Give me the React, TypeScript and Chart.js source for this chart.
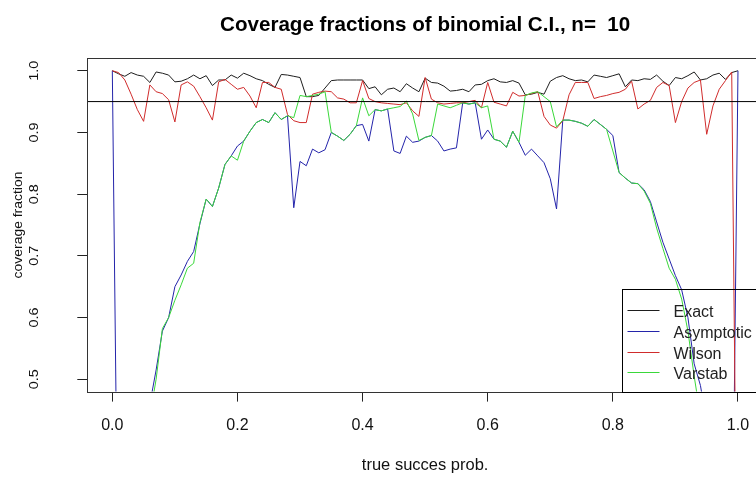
import React, { useEffect, useRef } from "react";
import { Chart, registerables } from "chart.js";

Chart.register(...registerables);

// ---------------- data ----------------
const P = [
  0.00, 0.01, 0.02, 0.03, 0.04, 0.05, 0.06, 0.07, 0.08, 0.09,
  0.10, 0.11, 0.12, 0.13, 0.14, 0.15, 0.16, 0.17, 0.18, 0.19,
  0.20, 0.21, 0.22, 0.23, 0.24, 0.25, 0.26, 0.27, 0.28, 0.29,
  0.30, 0.31, 0.32, 0.33, 0.34, 0.35, 0.36, 0.37, 0.38, 0.39,
  0.40, 0.41, 0.42, 0.43, 0.44, 0.45, 0.46, 0.47, 0.48, 0.49,
  0.50, 0.51, 0.52, 0.53, 0.54, 0.55, 0.56, 0.57, 0.58, 0.59,
  0.60, 0.61, 0.62, 0.63, 0.64, 0.65, 0.66, 0.67, 0.68, 0.69,
  0.70, 0.71, 0.72, 0.73, 0.74, 0.75, 0.76, 0.77, 0.78, 0.79,
  0.80, 0.81, 0.82, 0.83, 0.84, 0.85, 0.86, 0.87, 0.88, 0.89,
  0.90, 0.91, 0.92, 0.93, 0.94, 0.95, 0.96, 0.97, 0.98, 0.99,
  1.00,
];

const EXACT = [
  1.000, 0.995, 0.991, 0.997, 0.993, 0.991, 0.981, 0.998, 0.996, 0.993,
  0.982, 0.983, 0.987, 0.993, 0.987, 0.992, 0.976, 0.985, 0.985, 0.993,
  0.988, 0.996, 0.992, 0.987, 0.984, 0.978, 0.973, 0.994, 0.993, 0.991,
  0.989, 0.958, 0.958, 0.960, 0.972, 0.984, 0.985, 0.985, 0.985, 0.985,
  0.985, 0.971, 0.974, 0.961, 0.970, 0.972, 0.966, 0.979, 0.972, 0.966,
  0.988, 0.981, 0.980, 0.975, 0.967, 0.968, 0.970, 0.966, 0.977, 0.978,
  0.984, 0.987, 0.982, 0.981, 0.984, 0.980, 0.961, 0.962, 0.965, 0.962,
  0.983, 0.989, 0.992, 0.987, 0.984, 0.985, 0.982, 0.993, 0.991, 0.989,
  0.992, 0.995, 0.974, 0.985, 0.984, 0.987, 0.986, 0.993, 0.983, 0.976,
  0.989, 0.987, 0.992, 0.998, 0.985, 0.987, 0.993, 0.996, 0.986, 0.997,
  1.000,
];

const ASYMPTOTIC = [
  1.000, 0.096, 0.183, 0.263, 0.335, 0.400, 0.460, 0.515, 0.578, 0.600,
  0.650, 0.669, 0.691, 0.707, 0.752, 0.792, 0.780, 0.810, 0.848, 0.862,
  0.878, 0.886, 0.902, 0.916, 0.921, 0.916, 0.932, 0.921, 0.927, 0.778,
  0.853, 0.846, 0.873, 0.867, 0.872, 0.900, 0.894, 0.887, 0.897, 0.911,
  0.913, 0.886, 0.937, 0.935, 0.938, 0.870, 0.866, 0.894, 0.884, 0.886,
  0.892, 0.895, 0.886, 0.870, 0.873, 0.875, 0.948, 0.946, 0.948, 0.889,
  0.904, 0.889, 0.886, 0.876, 0.902, 0.884, 0.863, 0.873, 0.862, 0.851,
  0.825, 0.776, 0.920, 0.920, 0.918, 0.915, 0.910, 0.921, 0.913, 0.905,
  0.895, 0.835, 0.826, 0.818, 0.817, 0.807, 0.788, 0.755, 0.722, 0.695,
  0.668, 0.645, 0.600, 0.525, 0.490, 0.430, 0.335, 0.263, 0.183, 0.096,
  1.000,
];

const WILSON = [
  1.000, 0.997, 0.985, 0.962, 0.937, 0.918, 0.977, 0.966, 0.963, 0.953,
  0.917, 0.977, 0.982, 0.975, 0.958, 0.940, 0.920, 0.982, 0.986, 0.978,
  0.970, 0.973, 0.959, 0.940, 0.981, 0.981, 0.973, 0.970, 0.929, 0.919,
  0.916, 0.916, 0.962, 0.965, 0.967, 0.966, 0.956, 0.954, 0.948, 0.948,
  0.984, 0.955, 0.950, 0.948, 0.947, 0.946, 0.945, 0.948, 0.935, 0.926,
  0.989, 0.954, 0.948, 0.946, 0.947, 0.948, 0.948, 0.950, 0.952, 0.940,
  0.981, 0.949, 0.946, 0.943, 0.965, 0.959, 0.960, 0.963, 0.966, 0.926,
  0.912, 0.907, 0.919, 0.961, 0.981, 0.981, 0.981, 0.955, 0.958, 0.960,
  0.963, 0.965, 0.970, 0.983, 0.938, 0.946, 0.952, 0.973, 0.981, 0.976,
  0.916, 0.950, 0.972, 0.981, 0.985, 0.897, 0.943, 0.970, 0.984, 0.998,
  0.000,
];

const VARSTAB = [
  0.000, 0.096, 0.180, 0.260, 0.330, 0.400, 0.440, 0.500, 0.582, 0.600,
  0.628, 0.653, 0.680, 0.688, 0.754, 0.792, 0.780, 0.810, 0.848, 0.862,
  0.855, 0.886, 0.902, 0.916, 0.921, 0.916, 0.932, 0.921, 0.927, 0.924,
  0.960, 0.958, 0.960, 0.962, 0.966, 0.900, 0.894, 0.887, 0.897, 0.911,
  0.956, 0.927, 0.937, 0.935, 0.938, 0.940, 0.942, 0.951, 0.930, 0.887,
  0.892, 0.895, 0.946, 0.943, 0.940, 0.944, 0.948, 0.946, 0.948, 0.940,
  0.943, 0.889, 0.886, 0.876, 0.902, 0.884, 0.960, 0.964, 0.966, 0.958,
  0.950, 0.909, 0.920, 0.920, 0.918, 0.915, 0.910, 0.921, 0.913, 0.905,
  0.870, 0.835, 0.826, 0.818, 0.817, 0.805, 0.785, 0.745, 0.712, 0.680,
  0.662, 0.630, 0.578, 0.505, 0.440, 0.400, 0.330, 0.260, 0.180, 0.100,
  0.000,
];

const SERIES_NAMES = ["Exact", "Asymptotic", "Wilson", "Varstab"];
const SERIES_COLORS = ["#1e1e1e", "#2424aa", "#d02c2c", "#3ad83a"];
const TARGET_LEVEL = [0.95];
const X_TICKS = [0, 0.2, 0.4, 0.6, 0.8, 1.0];
const X_TICK_LABELS = ["0.0", "0.2", "0.4", "0.6", "0.8", "1.0"];
const Y_TICKS = [0.5, 0.6, 0.7, 0.8, 0.9, 1.0];
const Y_TICK_LABELS = ["0.5", "0.6", "0.7", "0.8", "0.9", "1.0"];
const X_RANGE = [-0.04, 1.04];
const Y_RANGE = [0.48, 1.02];
const TITLE = "Coverage fractions of binomial C.I., n=  10";
const X_TITLE = "true succes prob.";
const Y_TITLE = "coverage fraction";

// ---------------- layout ----------------
const FONT = '"Liberation Sans", Arial, Helvetica, sans-serif';
const CW = 790;
const CH = 481;
const PLOT_LEFT = 87.3;
const PLOT_TOP = 58.4;
const PLOT_RIGHT = 763;
const PLOT_BOTTOM = 391.6;

const decorPlugin = {
  id: "rDecor",
  afterDraw(chart: any) {
    const ctx: CanvasRenderingContext2D = chart.ctx;
    const a = chart.chartArea;
    const xs = chart.scales.x;
    const ys = chart.scales.y;
    ctx.save();
    ctx.strokeStyle = "#000";
    ctx.lineWidth = 1;
    // box
    const l = Math.round(a.left) + 0.5;
    const t = Math.round(a.top) + 0.5;
    const r = Math.round(a.right) + 0.5;
    const b = Math.round(a.bottom) + 0.5;
    ctx.strokeStyle = "#333";
    ctx.strokeRect(l, t, r - l, b - t);

    ctx.fillStyle = "#000";
    // title
    ctx.font = `bold 20.6px ${FONT}`;
    ctx.textAlign = "center";
    ctx.textBaseline = "alphabetic";
    ctx.fillText(TITLE, (a.left + a.right) / 2, 31);

    // x tick labels
    ctx.fillStyle = "#111";
    ctx.font = `16px ${FONT}`;
    X_TICKS.forEach((v, i) => {
      ctx.fillText(X_TICK_LABELS[i], xs.getPixelForValue(v), 430);
    });
    // x title
    ctx.font = `16.5px ${FONT}`;
    ctx.fillText(X_TITLE, (a.left + a.right) / 2, 470);

    // y tick labels (rotated, R style)
    ctx.font = `16px ${FONT}`;
    Y_TICKS.forEach((v, i) => {
      ctx.save();
      ctx.translate(38, ys.getPixelForValue(v));
      ctx.rotate(-Math.PI / 2);
      ctx.scale(0.9, 0.85);
      ctx.fillText(Y_TICK_LABELS[i], 0, 0);
      ctx.restore();
    });
    // y title
    ctx.save();
    ctx.translate(22, (a.top + a.bottom) / 2);
    ctx.rotate(-Math.PI / 2);
    ctx.scale(0.87, 0.85);
    ctx.fillText(Y_TITLE, 0, 0);
    ctx.restore();

    // legend (bottom right, transparent)
    ctx.font = `16px ${FONT}`;
    const lw = 141;
    const lh = 103;
    const lx = Math.round(a.right - lw) + 0.5;
    const ly = Math.round(a.bottom - lh) + 0.5;
    ctx.strokeStyle = "#000";
    ctx.strokeRect(lx, ly, lw, lh);
    ctx.textAlign = "left";
    SERIES_NAMES.forEach((name, i) => {
      const yy = Math.round(ly + 20.5 + i * 20.8) + 0.5;
      ctx.strokeStyle = SERIES_COLORS[i];
      ctx.beginPath();
      ctx.moveTo(lx + 5, yy);
      ctx.lineTo(lx + 37, yy);
      ctx.stroke();
      ctx.fillStyle = "#222";
      ctx.fillText(name, lx + 51, yy + 6);
    });
    ctx.restore();
  },
};

function toPoints(values: number[]) {
  return P.map((p, i) => ({ x: p, y: values[i] }));
}

export default function App() {
  const ref = useRef<HTMLCanvasElement | null>(null);

  useEffect(() => {
    if (!ref.current) return;
    const seriesValues = [EXACT, ASYMPTOTIC, WILSON, VARSTAB];
    const datasets: any[] = seriesValues.map((vals, i) => ({
      label: SERIES_NAMES[i],
      data: toPoints(vals),
      borderColor: SERIES_COLORS[i],
      backgroundColor: SERIES_COLORS[i],
      borderWidth: 1,
      pointRadius: 0,
      tension: 0,
      fill: false,
      order: 4 - i,
    }));
    datasets.push({
      label: "target",
      data: [
        { x: X_RANGE[0], y: TARGET_LEVEL[0] },
        { x: X_RANGE[1], y: TARGET_LEVEL[0] },
      ],
      borderColor: "#000",
      borderWidth: 1,
      pointRadius: 0,
      fill: false,
      order: 0,
    });

    const chart = new Chart(ref.current, {
      type: "line",
      data: { datasets },
      options: {
        responsive: false,
        animation: false,
        devicePixelRatio: 1,
        events: [],
        layout: {
          padding: { left: 0, top: PLOT_TOP, right: CW - PLOT_RIGHT, bottom: 0 },
        },
        plugins: {
          legend: { display: false },
          title: { display: false },
          tooltip: { enabled: false },
        },
        scales: {
          x: {
            type: "linear",
            position: "bottom",
            min: X_RANGE[0],
            max: X_RANGE[1],
            afterBuildTicks: (s: any) => {
              s.ticks = X_TICKS.map((v) => ({ value: v }));
            },
            afterFit: (s: any) => {
              s.height = CH - PLOT_BOTTOM;
            },
            ticks: { display: false },
            grid: {
              display: true,
              drawOnChartArea: false,
              drawTicks: true,
              tickLength: 10,
              color: "#222",
              lineWidth: 1,
            },
            border: { display: false },
          },
          y: {
            type: "linear",
            position: "left",
            min: Y_RANGE[0],
            max: Y_RANGE[1],
            afterBuildTicks: (s: any) => {
              s.ticks = Y_TICKS.map((v) => ({ value: v }));
            },
            afterFit: (s: any) => {
              s.width = PLOT_LEFT;
            },
            ticks: { display: false },
            grid: {
              display: true,
              drawOnChartArea: false,
              drawTicks: true,
              tickLength: 10,
              color: "#222",
              lineWidth: 1,
            },
            border: { display: false },
          },
        },
      },
      plugins: [decorPlugin],
    });
    return () => chart.destroy();
  }, []);

  return (
    <div
      style={{
        position: "absolute",
        left: 0,
        top: 0,
        width: 756,
        height: 481,
        overflow: "hidden",
        background: "#fff",
      }}
    >
      <canvas
        ref={ref}
        width={CW}
        height={CH}
        style={{ display: "block", width: CW, height: CH }}
      />
    </div>
  );
}
